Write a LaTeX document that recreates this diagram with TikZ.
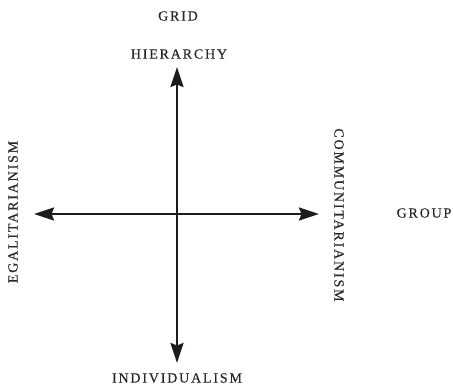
\documentclass[tikz,border=0pt]{standalone}
\usepackage{fontspec}
\setmainfont{Liberation Serif}[FakeBold=0.35]
\usetikzlibrary{arrows.meta}
\definecolor{ink}{HTML}{1E1B1C}
\definecolor{txt}{HTML}{262626}
\tikzset{
  axis/.style={draw=ink, line width=2.4pt, -{Stealth[length=20pt,width=13pt,inset=2.5pt]}},
  lbl/.style={text=txt, inner sep=0pt, font=\fontsize{14}{16}\selectfont\addfontfeature{LetterSpace=13}}
}
\begin{document}
\begin{tikzpicture}[x=1pt,y=-1pt]
\useasboundingbox (0,0) rectangle (453,387);
\coordinate (c) at (177,214);
\coordinate (top) at (177,67);
\coordinate (bot) at (177,363);
\coordinate (lft) at (34,214);
\coordinate (rgt) at (319,214);
\draw[axis] (c) -- (top);
\draw[axis] (c) -- (bot);
\draw[axis] (c) -- (lft);
\draw[axis] (c) -- (rgt);
\node[lbl] (grid) at (178,16) {GRID};
\node[lbl] (hier) at (179,54) {HIERARCHY};
\node[lbl] (indiv) at (177,378) {INDIVIDUALISM};
\node[lbl, rotate=90] (egal) at (13,212) {EGALITARIANISM};
\node[lbl, rotate=-90] (comm) at (339,215) {COMMUNITARIANISM};
\node[lbl] (group) at (424,213) {GROUP};
\end{tikzpicture}
\end{document}
